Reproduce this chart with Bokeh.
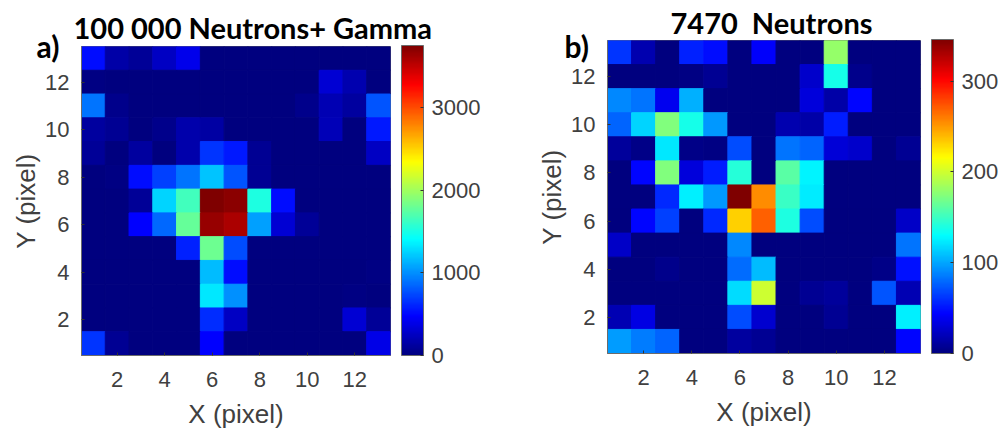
import numpy as np
from bokeh.plotting import figure
from bokeh.layouts import row
from bokeh.models import (ColumnDataSource, LinearColorMapper, ColorBar, FixedTicker, Label)
from bokeh.transform import transform
from bokeh.embed import file_html
from bokeh.resources import INLINE

# rows listed from y=13 (top) down to y=1; columns x=1..13
gamma_rows = [
 [520,150,100,260,410,0,0,0,0,0,0,0,0],
 [20,0,0,0,0,0,0,0,0,0,320,180,0],
 [900,50,0,0,0,0,0,0,0,50,200,120,790],
 [120,80,10,50,170,140,0,0,0,0,210,0,570],
 [100,10,120,0,170,670,560,80,0,0,0,0,250],
 [0,20,520,710,900,1200,790,80,0,0,0,0,0],
 [0,0,100,1250,1650,3750,3700,1520,520,0,0,0,0],
 [0,0,480,860,1780,3650,3580,1060,320,100,0,0,0],
 [0,0,0,0,600,1810,750,0,0,0,0,0,0],
 [0,0,0,0,0,1160,520,0,0,0,0,0,15],
 [0,0,0,0,0,1330,1010,0,0,0,0,15,5],
 [0,0,0,0,0,630,260,0,0,0,0,320,100],
 [670,80,0,0,0,480,0,0,0,0,0,0,390],
]
neutron_rows = [
 [62,17,0,55,48,0,42,0,0,180,0,0,0],
 [0,0,0,2,7,0,0,0,27,137,5,0,0],
 [90,83,38,104,0,0,0,0,32,14,45,0,0],
 [78,115,173,137,95,0,0,17,14,53,0,0,0],
 [10,3,122,3,2,70,0,83,78,30,27,0,8],
 [0,45,173,32,53,143,0,160,126,0,0,0,0],
 [0,0,57,125,95,346,255,150,123,0,0,0,0],
 [0,45,65,0,57,232,270,140,70,0,0,0,25],
 [25,0,0,0,0,90,0,0,0,0,0,0,83],
 [0,0,5,0,0,80,108,0,0,0,0,4,50],
 [0,0,0,0,0,118,200,0,7,10,0,72,18],
 [18,35,0,0,0,70,28,0,0,8,0,0,125],
 [96,86,78,0,0,12,7,0,0,0,0,0,45],
]
gamma_ticks = [0, 1000, 2000, 3000]
neutron_ticks = [0, 100, 200, 300]
axis_ticks = [2, 4, 6, 8, 10, 12]
GAMMA_MAX = 3750
NEUTRON_MAX = 346

def jet(n=256):
    f = np.linspace(0, 1, n)
    r = np.clip(np.minimum(4*f-1.5, -4*f+4.5), 0, 1)
    g = np.clip(np.minimum(4*f-0.5, -4*f+3.5), 0, 1)
    b = np.clip(np.minimum(4*f+0.5, -4*f+2.5), 0, 1)
    return ["#%02x%02x%02x" % (int(a*255), int(c*255), int(d*255)) for a, c, d in zip(r, g, b)]

TXT = "#404040"
EDGE = "#6b6b6b"

def panel(rows, high, cticks, title, tag, left, top, right, fw, fh, bottom, title_off, title_size, standoff, tag_x, tag_y):
    xs, ys, vs = [], [], []
    for i, rw in enumerate(rows):
        for j, v in enumerate(rw):
            xs.append(j+1); ys.append(13-i); vs.append(v)
    src = ColumnDataSource(dict(x=xs, y=ys, v=vs))
    mapper = LinearColorMapper(palette=jet(), low=0, high=high)
    p = figure(frame_width=fw, frame_height=fh, x_range=(0.5, 13.5), y_range=(0.5, 13.5),
               min_border_left=left, min_border_top=top, min_border_right=right, min_border_bottom=bottom,
               toolbar_location=None, output_backend="svg", background_fill_color="white",
               x_axis_label="X (pixel)", y_axis_label="Y (pixel)")
    p.rect("x", "y", 1, 1, source=src, fill_color=transform("v", mapper),
           line_color=transform("v", mapper), line_width=1)
    p.grid.visible = False
    p.outline_line_color = EDGE
    p.outline_line_width = 1
    for ax in (p.xaxis[0], p.yaxis[0]):
        ax.ticker = FixedTicker(ticks=axis_ticks)
        ax.major_tick_in = 3
        ax.major_tick_out = 0
        ax.minor_tick_line_color = None
        ax.axis_line_color = EDGE
        ax.major_tick_line_color = "#333333"
        ax.major_label_text_font = "Liberation Sans"
        ax.major_label_text_font_size = "22px"
        ax.major_label_text_color = TXT
        ax.axis_label_text_font = "Liberation Sans"
        ax.axis_label_text_font_size = "26px"
        ax.axis_label_text_font_style = "normal"
        ax.axis_label_text_color = TXT
    p.xaxis[0].major_label_standoff = 16
    p.xaxis[0].axis_label_standoff = 9
    p.yaxis[0].major_label_standoff = 12
    p.yaxis[0].axis_label_standoff = 1
    p.yaxis[0].major_label_orientation = "horizontal"

    cb = ColorBar(color_mapper=mapper, ticker=FixedTicker(ticks=cticks), width=22, height=fh+1,
                  padding=0, margin=0, location=(11, 0), major_tick_in=3, major_tick_out=0,
                  major_tick_line_color="#333333", minor_tick_line_color=None,
                  bar_line_color=EDGE, border_line_color=None, label_standoff=8,
                  major_label_text_font="Liberation Sans", major_label_text_font_size="22px",
                  major_label_text_color=TXT)
    p.add_layout(cb, "right")

    p.title.text = title
    p.title.text_font = "Lato"
    p.title.text_font_style = "bold"
    p.title.text_font_size = title_size
    p.title.text_color = "black"
    p.title.align = "left"
    p.title.offset = title_off
    p.title.standoff = standoff

    p.add_layout(Label(x=tag_x, y=tag_y, x_units="screen", y_units="screen", text=tag,
                       text_font="Lato", text_font_style="bold", text_font_size="30px",
                       text_color="black"), "left")
    return p

pa = panel(gamma_rows, GAMMA_MAX, gamma_ticks, "100 000 Neutrons+ Gamma", "a)",
           81, 39, 100, 309, 309, 76, -8, "29px", 4, 51, 292)
pb = panel(neutron_rows, NEUTRON_MAX, neutron_ticks, "7470\u00a0\u00a0Neutrons", "b)",
           117, 39, 60, 313, 313, 78, 63, "29px", 1, 54, 290)
pa.margin = (5, 0, 0, -15)
pb.margin = (-1, 0, 0, 0)
page = row(pa, pb, spacing=0)
open("out.html", "w").write(file_html(page, INLINE))
